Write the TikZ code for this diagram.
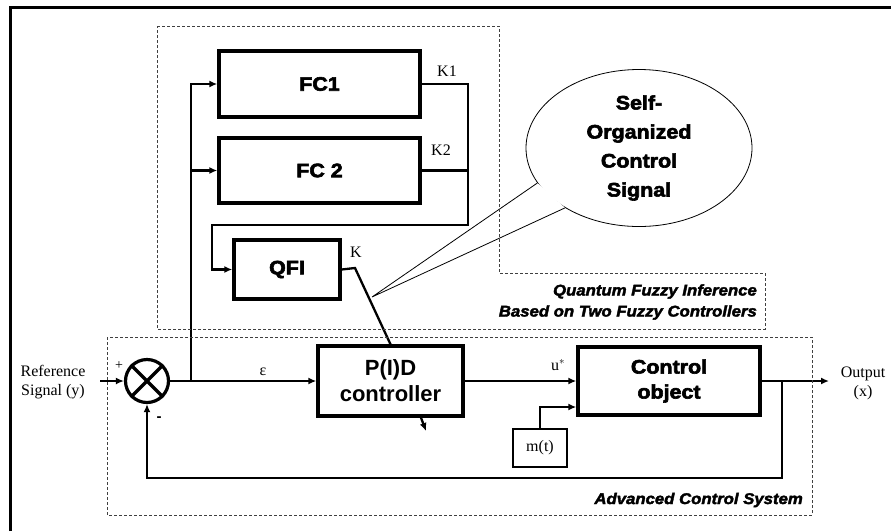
\documentclass[tikz,border=0pt]{standalone}
\usepackage{fontspec}
\setmainfont{Liberation Serif}
\newfontfamily\heavyfont[FakeStretch=1.1,FakeBold=3]{Liberation Sans Bold}
\newfontfamily\heavyitfont[FakeStretch=1.08,FakeBold=2.5]{Liberation Sans Bold Italic}
\newfontfamily\boldsans{Liberation Sans Bold}
\usetikzlibrary{arrows.meta,shapes.geometric}
\tikzset{
	>={Latex[length=8pt,width=7pt]},
	block/.style={draw, line width=3.4pt, inner sep=0pt, align=center,
		font=\heavyfont\fontsize{19.5}{25}\selectfont},
	conn/.style={line width=2.3pt},
	lbl/.style={inner sep=0pt, font=\fontsize{16}{19}\selectfont},
	frame/.style={draw=black!75, line width=1pt, dash pattern=on 3pt off 2pt},
	note/.style={inner sep=0pt, align=right, font=\heavyitfont\fontsize{15.5}{21}\selectfont}
}
\begin{document}
\begin{tikzpicture}[x=1pt,y=-1pt]
	\useasboundingbox (0,0) rectangle (891,531);
	\draw[line width=3pt] (10,531)--(10,7)--(891,7);
	% blocks
	\node[block, minimum width=201pt, minimum height=66pt] at (319.5,84)(fc1){FC1};
	\node[block, minimum width=201pt, minimum height=65pt] at (319.5,170.5)(fc2){FC 2};
	\node[block, minimum width=106pt, minimum height=59pt] at (287,269.5)(qfi){QFI};
	\node[block, minimum width=145pt, minimum height=70pt,
		font=\boldsans\fontsize{22}{26}\selectfont] at (390.5,381)(pid){P(I)D\\controller};
	\node[block, minimum width=182pt, minimum height=68pt] at (669,381)(obj){Control\\object};
	\node[draw, line width=2.2pt, minimum width=54pt, minimum height=38pt,
		inner sep=0pt, font=\fontsize{16}{19}\selectfont] at (540,448)(mt){m(t)};
	\node[draw, circle, line width=3.2pt, minimum size=43pt, inner sep=0pt] at (147,381)(sum){};
	\draw[line width=3.2pt] (sum.45)--(sum.225) (sum.135)--(sum.315);
	% junctions
	\coordinate (in) at (100,381);
	\coordinate (split) at (191,381);
	\coordinate (bus) at (468,225);
	\coordinate (busl) at (212,225);
	\coordinate (kbend) at (355,268);
	\coordinate (fb) at (782,381);
	\coordinate (fbl) at (147,478);
	\coordinate (out) at (829,381);
	\coordinate (pidout) at (426,431);
	% connectors
	\draw[conn,->] (in)--(sum.west);
	\draw[conn,->] (sum.east)--(pid.west);
	\draw[conn,->] (split)|-(fc1.west);
	\draw[conn,->] (split)|-(fc2.west);
	\draw[conn,->] (fc1.east)-|(bus)--(busl)|-(qfi.west);
	\draw[conn] (fc2.east)--(fc2.east-|bus);
	\draw[conn] (qfi.east)--(kbend)--(pid.north);
	\draw[conn,->] (pid.east)--(obj.west);
	\draw[conn,->] (mt.north)|-([yshift=-26pt]obj.west);
	\draw[conn,->] (obj.east)--(out);
	\draw[conn,->] (fb)|-(fbl)--(sum.south);
	\draw[conn,->] ([xshift=30.5pt]pid.south)--(pidout);
	% labels
	\node[lbl] at (447,71)(k1){K1};
	\node[lbl] at (441,150)(k2){K2};
	\node[lbl] at (356,252)(k){K};
	\node[lbl] at (263,372)(eps){ε};
	\node[lbl] at (558,365)(u){u$^{*}$};
	\node[lbl, font=\fontsize{14}{16}\selectfont] at (119,366)(plus){+};
	\node[lbl, font=\boldsans\fontsize{15}{16}\selectfont] at (159,419)(minus){-};
	\node[lbl, align=center] at (53,382)(ref){Reference\\Signal (y)};
	\node[lbl, align=center] at (863,383)(outlbl){Output\\(x)};
	% speech bubble
	\node[draw, ellipse, line width=0.8pt, minimum width=226pt, minimum height=157pt,
		inner sep=0pt, align=center, font=\heavyfont\fontsize{19.5}{29}\selectfont]
		at (639,148)(bubble){Self-\\Organized\\Control\\Signal};
	\coordinate (tip) at (372,297);
	\fill[white] (bubble.199)--(tip)--(bubble.219)--cycle;
	\draw[line width=0.8pt] (bubble.199)--(tip)--(bubble.219);
	% dashed frames
	\draw[frame] (157,26)--(499,26)--(499,273)--(765,273)--(765,329)--(157,329)--cycle;
	\draw[frame] (107,337) rectangle (812,515);
	\node[note, anchor=east] at (757,302)(qlbl){Quantum Fuzzy Inference\\Based on Two Fuzzy Controllers};
	\node[note, anchor=east] at (803,500)(alabel){Advanced Control System};
\end{tikzpicture}
\end{document}
